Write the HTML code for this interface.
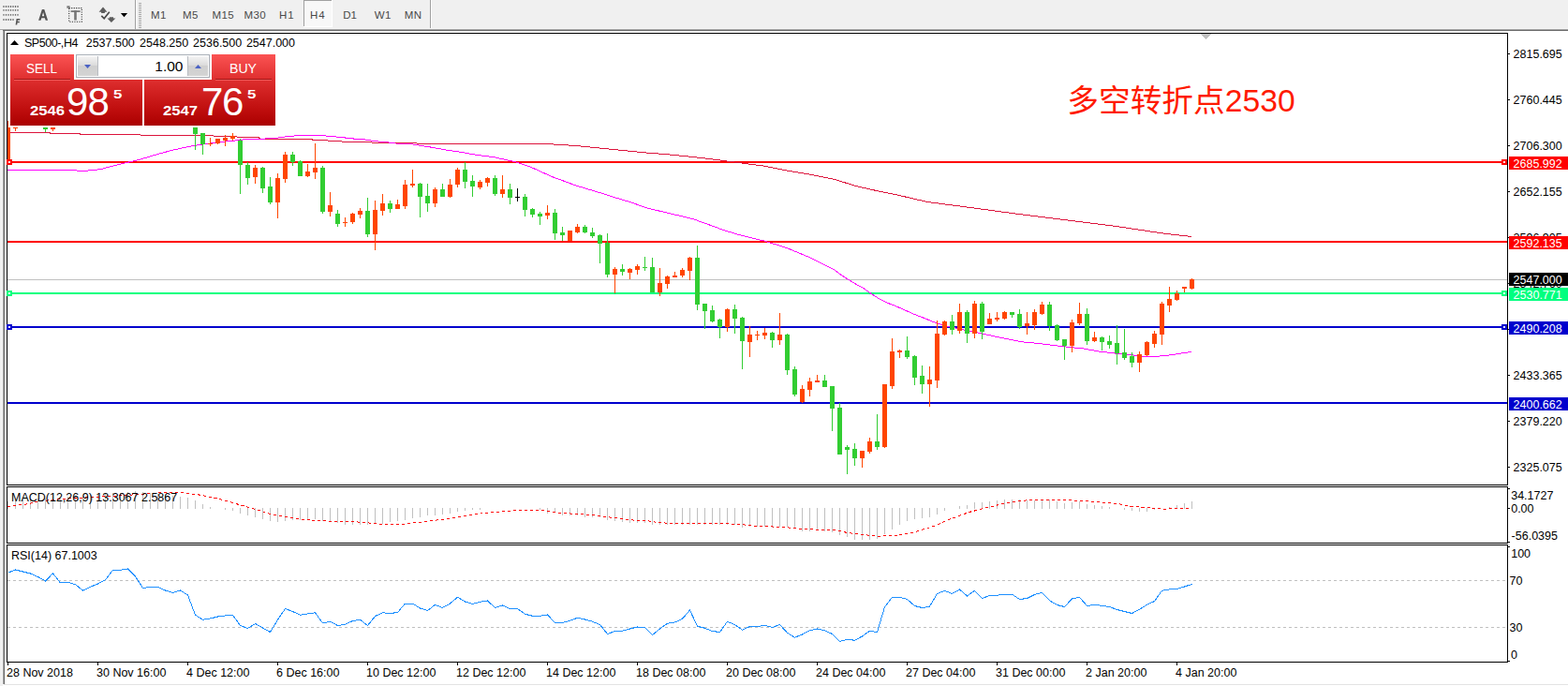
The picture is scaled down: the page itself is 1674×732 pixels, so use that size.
<!DOCTYPE html>
<html><head><meta charset="utf-8"><title>SP500-,H4</title>
<style>
html,body{margin:0;padding:0;background:#fff;}
body{width:1674px;height:732px;position:relative;overflow:hidden;font-family:"Liberation Sans",sans-serif;}
svg{position:absolute;left:0;top:0;}
#t div{position:absolute;white-space:nowrap;}
</style></head><body>
<svg width="1674" height="732" viewBox="0 0 1674 732" shape-rendering="crispEdges">
<rect x="0" y="0" width="1674" height="31" fill="#f0f0f0"/>
<rect x="0" y="30" width="1674" height="1" fill="#f5f5f5"/>
<rect x="0" y="31" width="1674" height="1" fill="#a6a6a6"/>
<rect x="0" y="32" width="3" height="700" fill="#f0f0f0"/>
<rect x="3" y="32" width="1674" height="1" fill="#696969"/>
<rect x="3" y="33" width="1" height="697" fill="#a6a6a6"/>
<rect x="4" y="33" width="1" height="697" fill="#696969"/>
<rect x="4" y="730" width="1674" height="1" fill="#e3e3e3"/>
<rect x="144" y="0" width="1" height="31" fill="#a0a0a0"/>
<rect x="145" y="0" width="1" height="31" fill="#fbfbfb"/>
<rect x="148" y="3" width="3" height="1" fill="#a8a8a8"/>
<rect x="148" y="5" width="3" height="1" fill="#a8a8a8"/>
<rect x="148" y="7" width="3" height="1" fill="#a8a8a8"/>
<rect x="148" y="9" width="3" height="1" fill="#a8a8a8"/>
<rect x="148" y="11" width="3" height="1" fill="#a8a8a8"/>
<rect x="148" y="13" width="3" height="1" fill="#a8a8a8"/>
<rect x="148" y="15" width="3" height="1" fill="#a8a8a8"/>
<rect x="148" y="17" width="3" height="1" fill="#a8a8a8"/>
<rect x="148" y="19" width="3" height="1" fill="#a8a8a8"/>
<rect x="148" y="21" width="3" height="1" fill="#a8a8a8"/>
<rect x="148" y="23" width="3" height="1" fill="#a8a8a8"/>
<rect x="148" y="25" width="3" height="1" fill="#a8a8a8"/>
<rect x="148" y="27" width="3" height="1" fill="#a8a8a8"/>
<rect x="148" y="29" width="3" height="1" fill="#a8a8a8"/>
<rect x="459" y="0" width="1" height="30" fill="#a0a0a0"/>
<rect x="460" y="0" width="1" height="30" fill="#ffffff"/>
<rect x="324" y="0" width="31" height="29" fill="#f8f8f8"/>
<rect x="324" y="0" width="31" height="1" fill="#a0a0a0"/>
<rect x="324" y="0" width="1" height="29" fill="#a0a0a0"/>
<rect x="354" y="0" width="1" height="29" fill="#ffffff"/>
<rect x="324" y="28" width="31" height="1" fill="#ffffff"/>
<rect x="7" y="35" width="1603" height="1" fill="#000"/>
<rect x="7" y="517" width="1603" height="1" fill="#000"/>
<rect x="7" y="35" width="1" height="483" fill="#000"/>
<rect x="1609" y="35" width="1" height="483" fill="#000"/>
<rect x="7" y="519" width="1603" height="1" fill="#000"/>
<rect x="7" y="579" width="1603" height="1" fill="#000"/>
<rect x="7" y="519" width="1" height="61" fill="#000"/>
<rect x="1609" y="519" width="1" height="61" fill="#000"/>
<rect x="7" y="581" width="1603" height="1" fill="#000"/>
<rect x="7" y="706" width="1603" height="1" fill="#000"/>
<rect x="7" y="581" width="1" height="126" fill="#000"/>
<rect x="1609" y="581" width="1" height="126" fill="#000"/>
<rect x="1610" y="57" width="2" height="1" fill="#000"/>
<rect x="1610" y="106" width="2" height="1" fill="#000"/>
<rect x="1610" y="155" width="2" height="1" fill="#000"/>
<rect x="1610" y="204" width="2" height="1" fill="#000"/>
<rect x="1610" y="253" width="2" height="1" fill="#000"/>
<rect x="1610" y="302" width="2" height="1" fill="#000"/>
<rect x="1610" y="351" width="2" height="1" fill="#000"/>
<rect x="1610" y="400" width="2" height="1" fill="#000"/>
<rect x="1610" y="449" width="2" height="1" fill="#000"/>
<rect x="1610" y="498" width="2" height="1" fill="#000"/>
<rect x="1610" y="521" width="2" height="1" fill="#000"/>
<rect x="1610" y="542" width="2" height="1" fill="#000"/>
<rect x="1610" y="578" width="2" height="1" fill="#000"/>
<rect x="1610" y="583" width="2" height="1" fill="#000"/>
<rect x="1610" y="705" width="2" height="1" fill="#000"/>
<rect x="8" y="707" width="1" height="3" fill="#000"/>
<rect x="104" y="707" width="1" height="3" fill="#000"/>
<rect x="200" y="707" width="1" height="3" fill="#000"/>
<rect x="296" y="707" width="1" height="3" fill="#000"/>
<rect x="392" y="707" width="1" height="3" fill="#000"/>
<rect x="488" y="707" width="1" height="3" fill="#000"/>
<rect x="584" y="707" width="1" height="3" fill="#000"/>
<rect x="680" y="707" width="1" height="3" fill="#000"/>
<rect x="776" y="707" width="1" height="3" fill="#000"/>
<rect x="872" y="707" width="1" height="3" fill="#000"/>
<rect x="968" y="707" width="1" height="3" fill="#000"/>
<rect x="1064" y="707" width="1" height="3" fill="#000"/>
<rect x="1160" y="707" width="1" height="3" fill="#000"/>
<rect x="1256" y="707" width="1" height="3" fill="#000"/>
<polygon points="1281,36 1293,36 1287,42" fill="#c0c0c0"/>
<rect x="8" y="298" width="1601" height="1" fill="#c0c0c0"/>
<rect x="8" y="172" width="1601" height="2" fill="#ff0000"/>
<rect x="7" y="170" width="6" height="6" fill="#ff0000"/>
<rect x="9" y="172" width="2" height="2" fill="#fff"/>
<rect x="1603" y="170" width="6" height="6" fill="#ff0000"/>
<rect x="1605" y="172" width="2" height="2" fill="#fff"/>
<rect x="8" y="257" width="1601" height="2" fill="#ff0000"/>
<rect x="8" y="312" width="1601" height="2" fill="#00ff7f"/>
<rect x="7" y="310" width="6" height="6" fill="#00ff7f"/>
<rect x="9" y="312" width="2" height="2" fill="#fff"/>
<rect x="1603" y="310" width="6" height="6" fill="#00ff7f"/>
<rect x="1605" y="312" width="2" height="2" fill="#fff"/>
<rect x="8" y="348" width="1601" height="2" fill="#0000cd"/>
<rect x="7" y="346" width="6" height="6" fill="#0000cd"/>
<rect x="9" y="348" width="2" height="2" fill="#fff"/>
<rect x="1603" y="346" width="6" height="6" fill="#0000cd"/>
<rect x="1605" y="348" width="2" height="2" fill="#fff"/>
<rect x="8" y="429" width="1601" height="2" fill="#0000cd"/>
<polyline points="8,141.2 52,141.2 54,142.2 84,142.2 86,143.3 149,143.3 151,144.5 227,144.5 229,145.6 252,145.6 254,146.5 276,146.5 278,148 332,148 334,149.3 349,149.3 351,150.5 364,150.5 366,151.5 396,151.5 398,152.7 444,152.7 446,153.3 580,153.3 615,155.5 640,158 665,160.5 690,163 715,165 740,167.5 765,170.5 790,173.8 815,177 840,182 865,186.2 890,191.2 915,198.8 940,204.5 958,208 990,215.5 1040,222 1090,228.8 1140,235 1190,241.2 1240,248.8 1272,252.5" fill="none" stroke="#dc143c" stroke-width="1"/>
<polyline points="8,181.7 76,181.7 85,182.2 92,182.2 100,181.5 108,180.5 117,178 125,176 133,174 142,172 150,170 166.7,165 183,160.5 200,156.7 216.7,154 233,151.7 250,150.2 256.7,149.3 266.7,148 283.3,148 293.3,147.7 300,146.5 308.3,145.5 323.3,144.3 340,144.3 350,145.2 365,146.5 373.3,147.7 388.3,148.8 400,150.7 413.3,151.8 421.7,153 436.7,153.2 445,154.7 458.3,156.8 475,159.8 491.7,162.3 508.3,165.2 529,168 540,170.5 549,172.5 565,177.5 590,188.8 615,198 640,205.5 656.7,210.8 673.3,215.8 690,221.7 706.7,225.8 723.3,229.7 740,233.7 756.7,239.7 773.3,245.8 790,250.8 806.7,255 815,256.8 840,264.5 865,275 890,287.5 902,296.2 915,303.8 921.7,307.5 930,313.3 938.3,318.7 946.7,323 956.7,326.7 973.3,334.2 990,340.8 998.3,344.2 1006.7,347 1023.3,350.8 1040,354.2 1056.7,357.8 1073.3,361.3 1090,364.7 1106.7,366.3 1123.3,368.3 1140,370.3 1156.7,372 1173.3,375 1190,377 1206.7,378.6 1221.7,380.3 1235,380.3 1246.7,379.2 1258.3,377.5 1272,375.3" fill="none" stroke="#ff00ff" stroke-width="1"/>
<rect x="208" y="136" width="1" height="24" fill="#32cd32"/>
<rect x="206" y="136" width="5" height="7" fill="#32cd32"/>
<rect x="216" y="142" width="1" height="23" fill="#32cd32"/>
<rect x="214" y="142" width="5" height="12" fill="#32cd32"/>
<rect x="224" y="147" width="1" height="9" fill="#ff4500"/>
<rect x="222" y="153" width="5" height="1" fill="#ff4500"/>
<rect x="232" y="148" width="1" height="6" fill="#ff4500"/>
<rect x="230" y="148" width="5" height="5" fill="#ff4500"/>
<rect x="240" y="144" width="1" height="12" fill="#ff4500"/>
<rect x="238" y="147" width="5" height="3" fill="#ff4500"/>
<rect x="248" y="142" width="1" height="8" fill="#ff4500"/>
<rect x="246" y="145" width="5" height="3" fill="#ff4500"/>
<rect x="256" y="148" width="1" height="59" fill="#32cd32"/>
<rect x="254" y="150" width="5" height="26" fill="#32cd32"/>
<rect x="264" y="173" width="1" height="24" fill="#32cd32"/>
<rect x="262" y="176" width="5" height="14" fill="#32cd32"/>
<rect x="272" y="176" width="1" height="20" fill="#ff4500"/>
<rect x="270" y="179" width="5" height="10" fill="#ff4500"/>
<rect x="280" y="178" width="1" height="28" fill="#32cd32"/>
<rect x="278" y="179" width="5" height="22" fill="#32cd32"/>
<rect x="288" y="189" width="1" height="29" fill="#32cd32"/>
<rect x="286" y="199" width="5" height="17" fill="#32cd32"/>
<rect x="296" y="185" width="1" height="48" fill="#ff4500"/>
<rect x="294" y="190" width="5" height="26" fill="#ff4500"/>
<rect x="304" y="162" width="1" height="33" fill="#ff4500"/>
<rect x="302" y="165" width="5" height="26" fill="#ff4500"/>
<rect x="312" y="162" width="1" height="15" fill="#32cd32"/>
<rect x="310" y="165" width="5" height="8" fill="#32cd32"/>
<rect x="320" y="171" width="1" height="17" fill="#32cd32"/>
<rect x="318" y="172" width="5" height="16" fill="#32cd32"/>
<rect x="328" y="175" width="1" height="14" fill="#ff4500"/>
<rect x="326" y="183" width="5" height="5" fill="#ff4500"/>
<rect x="336" y="153" width="1" height="38" fill="#ff4500"/>
<rect x="334" y="179" width="5" height="5" fill="#ff4500"/>
<rect x="344" y="177" width="1" height="51" fill="#32cd32"/>
<rect x="342" y="179" width="5" height="47" fill="#32cd32"/>
<rect x="352" y="205" width="1" height="26" fill="#ff4500"/>
<rect x="350" y="219" width="5" height="7" fill="#ff4500"/>
<rect x="360" y="224" width="1" height="18" fill="#32cd32"/>
<rect x="358" y="228" width="5" height="11" fill="#32cd32"/>
<rect x="368" y="232" width="1" height="10" fill="#ff4500"/>
<rect x="366" y="237" width="5" height="1" fill="#ff4500"/>
<rect x="376" y="227" width="1" height="12" fill="#ff4500"/>
<rect x="374" y="228" width="5" height="9" fill="#ff4500"/>
<rect x="384" y="222" width="1" height="11" fill="#ff4500"/>
<rect x="382" y="225" width="5" height="4" fill="#ff4500"/>
<rect x="392" y="211" width="1" height="42" fill="#32cd32"/>
<rect x="390" y="225" width="5" height="25" fill="#32cd32"/>
<rect x="400" y="214" width="1" height="53" fill="#ff4500"/>
<rect x="398" y="224" width="5" height="26" fill="#ff4500"/>
<rect x="408" y="207" width="1" height="23" fill="#ff4500"/>
<rect x="406" y="217" width="5" height="8" fill="#ff4500"/>
<rect x="416" y="214" width="1" height="13" fill="#32cd32"/>
<rect x="414" y="217" width="5" height="6" fill="#32cd32"/>
<rect x="424" y="213" width="1" height="10" fill="#ff4500"/>
<rect x="422" y="218" width="5" height="5" fill="#ff4500"/>
<rect x="432" y="192" width="1" height="31" fill="#ff4500"/>
<rect x="430" y="197" width="5" height="23" fill="#ff4500"/>
<rect x="440" y="181" width="1" height="19" fill="#ff4500"/>
<rect x="438" y="196" width="5" height="2" fill="#ff4500"/>
<rect x="448" y="195" width="1" height="37" fill="#32cd32"/>
<rect x="446" y="196" width="5" height="14" fill="#32cd32"/>
<rect x="456" y="196" width="1" height="30" fill="#32cd32"/>
<rect x="454" y="209" width="5" height="8" fill="#32cd32"/>
<rect x="464" y="200" width="1" height="21" fill="#ff4500"/>
<rect x="462" y="202" width="5" height="15" fill="#ff4500"/>
<rect x="472" y="196" width="1" height="14" fill="#32cd32"/>
<rect x="470" y="202" width="5" height="8" fill="#32cd32"/>
<rect x="480" y="191" width="1" height="20" fill="#ff4500"/>
<rect x="478" y="197" width="5" height="13" fill="#ff4500"/>
<rect x="488" y="179" width="1" height="21" fill="#ff4500"/>
<rect x="486" y="181" width="5" height="16" fill="#ff4500"/>
<rect x="496" y="173" width="1" height="28" fill="#32cd32"/>
<rect x="494" y="181" width="5" height="13" fill="#32cd32"/>
<rect x="504" y="187" width="1" height="23" fill="#32cd32"/>
<rect x="502" y="193" width="5" height="6" fill="#32cd32"/>
<rect x="512" y="192" width="1" height="10" fill="#ff4500"/>
<rect x="510" y="194" width="5" height="6" fill="#ff4500"/>
<rect x="520" y="189" width="1" height="10" fill="#ff4500"/>
<rect x="518" y="190" width="5" height="5" fill="#ff4500"/>
<rect x="528" y="187" width="1" height="22" fill="#32cd32"/>
<rect x="526" y="190" width="5" height="17" fill="#32cd32"/>
<rect x="536" y="187" width="1" height="24" fill="#ff4500"/>
<rect x="534" y="202" width="5" height="5" fill="#ff4500"/>
<rect x="544" y="196" width="1" height="22" fill="#32cd32"/>
<rect x="542" y="202" width="5" height="9" fill="#32cd32"/>
<rect x="552" y="201" width="1" height="14" fill="#000000"/>
<rect x="550" y="210" width="5" height="1" fill="#000000"/>
<rect x="560" y="207" width="1" height="24" fill="#32cd32"/>
<rect x="558" y="210" width="5" height="14" fill="#32cd32"/>
<rect x="568" y="222" width="1" height="10" fill="#32cd32"/>
<rect x="566" y="223" width="5" height="6" fill="#32cd32"/>
<rect x="576" y="226" width="1" height="14" fill="#32cd32"/>
<rect x="574" y="228" width="5" height="3" fill="#32cd32"/>
<rect x="584" y="219" width="1" height="15" fill="#ff4500"/>
<rect x="582" y="227" width="5" height="3" fill="#ff4500"/>
<rect x="592" y="223" width="1" height="33" fill="#32cd32"/>
<rect x="590" y="227" width="5" height="22" fill="#32cd32"/>
<rect x="600" y="242" width="1" height="15" fill="#32cd32"/>
<rect x="598" y="248" width="5" height="3" fill="#32cd32"/>
<rect x="608" y="246" width="1" height="11" fill="#ff4500"/>
<rect x="606" y="246" width="5" height="11" fill="#ff4500"/>
<rect x="616" y="239" width="1" height="10" fill="#ff4500"/>
<rect x="614" y="242" width="5" height="6" fill="#ff4500"/>
<rect x="624" y="240" width="1" height="9" fill="#32cd32"/>
<rect x="622" y="242" width="5" height="6" fill="#32cd32"/>
<rect x="632" y="243" width="1" height="11" fill="#32cd32"/>
<rect x="630" y="248" width="5" height="4" fill="#32cd32"/>
<rect x="640" y="250" width="1" height="31" fill="#32cd32"/>
<rect x="638" y="251" width="5" height="9" fill="#32cd32"/>
<rect x="648" y="249" width="1" height="47" fill="#32cd32"/>
<rect x="646" y="259" width="5" height="34" fill="#32cd32"/>
<rect x="656" y="285" width="1" height="28" fill="#ff4500"/>
<rect x="654" y="287" width="5" height="6" fill="#ff4500"/>
<rect x="664" y="282" width="1" height="12" fill="#32cd32"/>
<rect x="662" y="287" width="5" height="3" fill="#32cd32"/>
<rect x="672" y="286" width="1" height="12" fill="#ff4500"/>
<rect x="670" y="287" width="5" height="4" fill="#ff4500"/>
<rect x="680" y="282" width="1" height="11" fill="#ff4500"/>
<rect x="678" y="284" width="5" height="4" fill="#ff4500"/>
<rect x="688" y="274" width="1" height="15" fill="#32cd32"/>
<rect x="686" y="285" width="5" height="1" fill="#32cd32"/>
<rect x="696" y="275" width="1" height="37" fill="#32cd32"/>
<rect x="694" y="285" width="5" height="27" fill="#32cd32"/>
<rect x="704" y="286" width="1" height="30" fill="#ff4500"/>
<rect x="702" y="302" width="5" height="10" fill="#ff4500"/>
<rect x="712" y="294" width="1" height="14" fill="#ff4500"/>
<rect x="710" y="295" width="5" height="8" fill="#ff4500"/>
<rect x="720" y="290" width="1" height="6" fill="#ff4500"/>
<rect x="718" y="294" width="5" height="2" fill="#ff4500"/>
<rect x="728" y="286" width="1" height="10" fill="#ff4500"/>
<rect x="726" y="288" width="5" height="6" fill="#ff4500"/>
<rect x="736" y="274" width="1" height="25" fill="#ff4500"/>
<rect x="734" y="275" width="5" height="14" fill="#ff4500"/>
<rect x="744" y="262" width="1" height="69" fill="#32cd32"/>
<rect x="742" y="275" width="5" height="50" fill="#32cd32"/>
<rect x="752" y="324" width="1" height="27" fill="#32cd32"/>
<rect x="750" y="324" width="5" height="8" fill="#32cd32"/>
<rect x="760" y="326" width="1" height="18" fill="#32cd32"/>
<rect x="758" y="331" width="5" height="12" fill="#32cd32"/>
<rect x="768" y="340" width="1" height="21" fill="#32cd32"/>
<rect x="766" y="341" width="5" height="8" fill="#32cd32"/>
<rect x="776" y="329" width="1" height="25" fill="#ff4500"/>
<rect x="774" y="330" width="5" height="19" fill="#ff4500"/>
<rect x="784" y="325" width="1" height="31" fill="#32cd32"/>
<rect x="782" y="330" width="5" height="10" fill="#32cd32"/>
<rect x="792" y="338" width="1" height="56" fill="#32cd32"/>
<rect x="790" y="339" width="5" height="25" fill="#32cd32"/>
<rect x="800" y="348" width="1" height="33" fill="#ff4500"/>
<rect x="798" y="357" width="5" height="8" fill="#ff4500"/>
<rect x="808" y="353" width="1" height="10" fill="#ff4500"/>
<rect x="806" y="357" width="5" height="1" fill="#ff4500"/>
<rect x="816" y="350" width="1" height="12" fill="#ff4500"/>
<rect x="814" y="355" width="5" height="3" fill="#ff4500"/>
<rect x="824" y="354" width="1" height="17" fill="#32cd32"/>
<rect x="822" y="355" width="5" height="8" fill="#32cd32"/>
<rect x="832" y="334" width="1" height="34" fill="#ff4500"/>
<rect x="830" y="357" width="5" height="6" fill="#ff4500"/>
<rect x="840" y="356" width="1" height="44" fill="#32cd32"/>
<rect x="838" y="357" width="5" height="38" fill="#32cd32"/>
<rect x="848" y="391" width="1" height="32" fill="#32cd32"/>
<rect x="846" y="394" width="5" height="27" fill="#32cd32"/>
<rect x="856" y="411" width="1" height="19" fill="#ff4500"/>
<rect x="854" y="415" width="5" height="14" fill="#ff4500"/>
<rect x="864" y="403" width="1" height="20" fill="#ff4500"/>
<rect x="862" y="407" width="5" height="9" fill="#ff4500"/>
<rect x="872" y="400" width="1" height="8" fill="#ff4500"/>
<rect x="870" y="406" width="5" height="2" fill="#ff4500"/>
<rect x="880" y="400" width="1" height="13" fill="#32cd32"/>
<rect x="878" y="406" width="5" height="7" fill="#32cd32"/>
<rect x="888" y="412" width="1" height="48" fill="#32cd32"/>
<rect x="886" y="412" width="5" height="24" fill="#32cd32"/>
<rect x="896" y="430" width="1" height="55" fill="#32cd32"/>
<rect x="894" y="435" width="5" height="50" fill="#32cd32"/>
<rect x="904" y="475" width="1" height="31" fill="#32cd32"/>
<rect x="902" y="477" width="5" height="3" fill="#32cd32"/>
<rect x="912" y="473" width="1" height="24" fill="#32cd32"/>
<rect x="910" y="479" width="5" height="10" fill="#32cd32"/>
<rect x="920" y="481" width="1" height="18" fill="#ff4500"/>
<rect x="918" y="481" width="5" height="8" fill="#ff4500"/>
<rect x="928" y="467" width="1" height="17" fill="#ff4500"/>
<rect x="926" y="471" width="5" height="11" fill="#ff4500"/>
<rect x="936" y="442" width="1" height="38" fill="#32cd32"/>
<rect x="934" y="471" width="5" height="6" fill="#32cd32"/>
<rect x="944" y="410" width="1" height="68" fill="#ff4500"/>
<rect x="942" y="410" width="5" height="67" fill="#ff4500"/>
<rect x="952" y="361" width="1" height="54" fill="#ff4500"/>
<rect x="950" y="375" width="5" height="37" fill="#ff4500"/>
<rect x="960" y="373" width="1" height="9" fill="#ff4500"/>
<rect x="958" y="374" width="5" height="2" fill="#ff4500"/>
<rect x="968" y="359" width="1" height="24" fill="#32cd32"/>
<rect x="966" y="374" width="5" height="7" fill="#32cd32"/>
<rect x="976" y="379" width="1" height="32" fill="#32cd32"/>
<rect x="974" y="380" width="5" height="23" fill="#32cd32"/>
<rect x="984" y="390" width="1" height="30" fill="#32cd32"/>
<rect x="982" y="401" width="5" height="9" fill="#32cd32"/>
<rect x="992" y="391" width="1" height="43" fill="#ff4500"/>
<rect x="990" y="405" width="5" height="5" fill="#ff4500"/>
<rect x="1000" y="342" width="1" height="72" fill="#ff4500"/>
<rect x="998" y="356" width="5" height="50" fill="#ff4500"/>
<rect x="1008" y="342" width="1" height="16" fill="#ff4500"/>
<rect x="1006" y="343" width="5" height="14" fill="#ff4500"/>
<rect x="1016" y="336" width="1" height="21" fill="#32cd32"/>
<rect x="1014" y="343" width="5" height="9" fill="#32cd32"/>
<rect x="1024" y="324" width="1" height="32" fill="#ff4500"/>
<rect x="1022" y="333" width="5" height="20" fill="#ff4500"/>
<rect x="1032" y="331" width="1" height="35" fill="#32cd32"/>
<rect x="1030" y="333" width="5" height="23" fill="#32cd32"/>
<rect x="1040" y="321" width="1" height="40" fill="#ff4500"/>
<rect x="1038" y="324" width="5" height="32" fill="#ff4500"/>
<rect x="1048" y="322" width="1" height="40" fill="#32cd32"/>
<rect x="1046" y="324" width="5" height="30" fill="#32cd32"/>
<rect x="1056" y="334" width="1" height="12" fill="#ff4500"/>
<rect x="1054" y="340" width="5" height="6" fill="#ff4500"/>
<rect x="1064" y="333" width="1" height="10" fill="#ff4500"/>
<rect x="1062" y="339" width="5" height="2" fill="#ff4500"/>
<rect x="1072" y="332" width="1" height="9" fill="#ff4500"/>
<rect x="1070" y="333" width="5" height="7" fill="#ff4500"/>
<rect x="1080" y="333" width="1" height="6" fill="#32cd32"/>
<rect x="1078" y="333" width="5" height="3" fill="#32cd32"/>
<rect x="1088" y="330" width="1" height="21" fill="#32cd32"/>
<rect x="1086" y="335" width="5" height="14" fill="#32cd32"/>
<rect x="1096" y="333" width="1" height="24" fill="#ff4500"/>
<rect x="1094" y="345" width="5" height="3" fill="#ff4500"/>
<rect x="1104" y="330" width="1" height="22" fill="#ff4500"/>
<rect x="1102" y="333" width="5" height="14" fill="#ff4500"/>
<rect x="1112" y="322" width="1" height="14" fill="#ff4500"/>
<rect x="1110" y="325" width="5" height="10" fill="#ff4500"/>
<rect x="1120" y="322" width="1" height="31" fill="#32cd32"/>
<rect x="1118" y="325" width="5" height="23" fill="#32cd32"/>
<rect x="1128" y="346" width="1" height="18" fill="#32cd32"/>
<rect x="1126" y="347" width="5" height="16" fill="#32cd32"/>
<rect x="1136" y="362" width="1" height="22" fill="#32cd32"/>
<rect x="1134" y="362" width="5" height="7" fill="#32cd32"/>
<rect x="1144" y="341" width="1" height="35" fill="#ff4500"/>
<rect x="1142" y="344" width="5" height="25" fill="#ff4500"/>
<rect x="1152" y="323" width="1" height="24" fill="#ff4500"/>
<rect x="1150" y="335" width="5" height="10" fill="#ff4500"/>
<rect x="1160" y="329" width="1" height="39" fill="#32cd32"/>
<rect x="1158" y="335" width="5" height="29" fill="#32cd32"/>
<rect x="1168" y="354" width="1" height="11" fill="#ff4500"/>
<rect x="1166" y="360" width="5" height="4" fill="#ff4500"/>
<rect x="1176" y="359" width="1" height="15" fill="#32cd32"/>
<rect x="1174" y="360" width="5" height="5" fill="#32cd32"/>
<rect x="1184" y="358" width="1" height="14" fill="#32cd32"/>
<rect x="1182" y="364" width="5" height="4" fill="#32cd32"/>
<rect x="1192" y="347" width="1" height="42" fill="#32cd32"/>
<rect x="1190" y="366" width="5" height="11" fill="#32cd32"/>
<rect x="1200" y="351" width="1" height="33" fill="#32cd32"/>
<rect x="1198" y="376" width="5" height="6" fill="#32cd32"/>
<rect x="1208" y="376" width="1" height="16" fill="#32cd32"/>
<rect x="1206" y="380" width="5" height="7" fill="#32cd32"/>
<rect x="1216" y="375" width="1" height="22" fill="#ff4500"/>
<rect x="1214" y="378" width="5" height="9" fill="#ff4500"/>
<rect x="1224" y="364" width="1" height="16" fill="#ff4500"/>
<rect x="1222" y="365" width="5" height="14" fill="#ff4500"/>
<rect x="1232" y="353" width="1" height="18" fill="#ff4500"/>
<rect x="1230" y="356" width="5" height="11" fill="#ff4500"/>
<rect x="1240" y="322" width="1" height="46" fill="#ff4500"/>
<rect x="1238" y="324" width="5" height="33" fill="#ff4500"/>
<rect x="1248" y="306" width="1" height="27" fill="#ff4500"/>
<rect x="1246" y="319" width="5" height="7" fill="#ff4500"/>
<rect x="1256" y="310" width="1" height="11" fill="#ff4500"/>
<rect x="1254" y="313" width="5" height="7" fill="#ff4500"/>
<rect x="1264" y="306" width="1" height="6" fill="#ff4500"/>
<rect x="1262" y="306" width="5" height="2" fill="#ff4500"/>
<rect x="1272" y="297" width="1" height="12" fill="#ff4500"/>
<rect x="1270" y="298" width="5" height="10" fill="#ff4500"/>
<rect x="8" y="129" width="1" height="8" fill="#ff4500"/>
<rect x="8" y="136" width="3" height="37" fill="#ff4500"/>
<rect x="14" y="136" width="5" height="1" fill="#ff4500"/>
<rect x="16" y="136" width="1" height="4" fill="#ff4500"/>
<rect x="46" y="136" width="5" height="2" fill="#32cd32"/>
<rect x="48" y="136" width="1" height="5" fill="#32cd32"/>
<rect x="54" y="136" width="5" height="2" fill="#ff4500"/>
<rect x="56" y="136" width="1" height="4" fill="#ff4500"/>
<rect x="7" y="170" width="6" height="6" fill="#ff0000"/>
<rect x="9" y="172" width="2" height="2" fill="#fff"/>
<rect x="8" y="535" width="1" height="8" fill="#c0c0c0"/>
<rect x="16" y="534" width="1" height="9" fill="#c0c0c0"/>
<rect x="24" y="533" width="1" height="10" fill="#c0c0c0"/>
<rect x="32" y="533" width="1" height="10" fill="#c0c0c0"/>
<rect x="40" y="532" width="1" height="11" fill="#c0c0c0"/>
<rect x="48" y="532" width="1" height="11" fill="#c0c0c0"/>
<rect x="56" y="531" width="1" height="12" fill="#c0c0c0"/>
<rect x="64" y="531" width="1" height="12" fill="#c0c0c0"/>
<rect x="72" y="530" width="1" height="13" fill="#c0c0c0"/>
<rect x="80" y="530" width="1" height="13" fill="#c0c0c0"/>
<rect x="88" y="529" width="1" height="14" fill="#c0c0c0"/>
<rect x="96" y="528" width="1" height="15" fill="#c0c0c0"/>
<rect x="104" y="528" width="1" height="15" fill="#c0c0c0"/>
<rect x="112" y="527" width="1" height="16" fill="#c0c0c0"/>
<rect x="120" y="526" width="1" height="17" fill="#c0c0c0"/>
<rect x="128" y="526" width="1" height="17" fill="#c0c0c0"/>
<rect x="136" y="525" width="1" height="18" fill="#c0c0c0"/>
<rect x="144" y="524" width="1" height="19" fill="#c0c0c0"/>
<rect x="152" y="525" width="1" height="18" fill="#c0c0c0"/>
<rect x="160" y="526" width="1" height="17" fill="#c0c0c0"/>
<rect x="168" y="527" width="1" height="16" fill="#c0c0c0"/>
<rect x="176" y="528" width="1" height="15" fill="#c0c0c0"/>
<rect x="184" y="529" width="1" height="14" fill="#c0c0c0"/>
<rect x="192" y="530" width="1" height="13" fill="#c0c0c0"/>
<rect x="200" y="531" width="1" height="12" fill="#c0c0c0"/>
<rect x="208" y="534" width="1" height="9" fill="#c0c0c0"/>
<rect x="216" y="538" width="1" height="5" fill="#c0c0c0"/>
<rect x="224" y="541" width="1" height="2" fill="#c0c0c0"/>
<rect x="240" y="542" width="1" height="2" fill="#c0c0c0"/>
<rect x="248" y="542" width="1" height="3" fill="#c0c0c0"/>
<rect x="256" y="542" width="1" height="6" fill="#c0c0c0"/>
<rect x="264" y="542" width="1" height="8" fill="#c0c0c0"/>
<rect x="272" y="542" width="1" height="10" fill="#c0c0c0"/>
<rect x="280" y="542" width="1" height="12" fill="#c0c0c0"/>
<rect x="288" y="542" width="1" height="14" fill="#c0c0c0"/>
<rect x="296" y="542" width="1" height="15" fill="#c0c0c0"/>
<rect x="304" y="542" width="1" height="14" fill="#c0c0c0"/>
<rect x="312" y="542" width="1" height="13" fill="#c0c0c0"/>
<rect x="320" y="542" width="1" height="13" fill="#c0c0c0"/>
<rect x="328" y="542" width="1" height="13" fill="#c0c0c0"/>
<rect x="336" y="542" width="1" height="12" fill="#c0c0c0"/>
<rect x="344" y="542" width="1" height="14" fill="#c0c0c0"/>
<rect x="352" y="542" width="1" height="14" fill="#c0c0c0"/>
<rect x="360" y="542" width="1" height="16" fill="#c0c0c0"/>
<rect x="368" y="542" width="1" height="18" fill="#c0c0c0"/>
<rect x="376" y="542" width="1" height="18" fill="#c0c0c0"/>
<rect x="384" y="542" width="1" height="18" fill="#c0c0c0"/>
<rect x="392" y="542" width="1" height="18" fill="#c0c0c0"/>
<rect x="400" y="542" width="1" height="17" fill="#c0c0c0"/>
<rect x="408" y="542" width="1" height="17" fill="#c0c0c0"/>
<rect x="416" y="542" width="1" height="15" fill="#c0c0c0"/>
<rect x="424" y="542" width="1" height="14" fill="#c0c0c0"/>
<rect x="432" y="542" width="1" height="13" fill="#c0c0c0"/>
<rect x="440" y="542" width="1" height="11" fill="#c0c0c0"/>
<rect x="448" y="542" width="1" height="10" fill="#c0c0c0"/>
<rect x="456" y="542" width="1" height="8" fill="#c0c0c0"/>
<rect x="464" y="542" width="1" height="8" fill="#c0c0c0"/>
<rect x="472" y="542" width="1" height="7" fill="#c0c0c0"/>
<rect x="480" y="542" width="1" height="6" fill="#c0c0c0"/>
<rect x="488" y="542" width="1" height="4" fill="#c0c0c0"/>
<rect x="496" y="542" width="1" height="3" fill="#c0c0c0"/>
<rect x="504" y="542" width="1" height="2" fill="#c0c0c0"/>
<rect x="512" y="542" width="1" height="2" fill="#c0c0c0"/>
<rect x="576" y="542" width="1" height="2" fill="#c0c0c0"/>
<rect x="584" y="542" width="1" height="6" fill="#c0c0c0"/>
<rect x="592" y="542" width="1" height="4" fill="#c0c0c0"/>
<rect x="600" y="542" width="1" height="8" fill="#c0c0c0"/>
<rect x="608" y="542" width="1" height="8" fill="#c0c0c0"/>
<rect x="616" y="542" width="1" height="8" fill="#c0c0c0"/>
<rect x="624" y="542" width="1" height="10" fill="#c0c0c0"/>
<rect x="632" y="542" width="1" height="10" fill="#c0c0c0"/>
<rect x="640" y="542" width="1" height="10" fill="#c0c0c0"/>
<rect x="648" y="542" width="1" height="13" fill="#c0c0c0"/>
<rect x="656" y="542" width="1" height="14" fill="#c0c0c0"/>
<rect x="664" y="542" width="1" height="15" fill="#c0c0c0"/>
<rect x="672" y="542" width="1" height="16" fill="#c0c0c0"/>
<rect x="680" y="542" width="1" height="16" fill="#c0c0c0"/>
<rect x="688" y="542" width="1" height="16" fill="#c0c0c0"/>
<rect x="696" y="542" width="1" height="18" fill="#c0c0c0"/>
<rect x="704" y="542" width="1" height="18" fill="#c0c0c0"/>
<rect x="712" y="542" width="1" height="18" fill="#c0c0c0"/>
<rect x="720" y="542" width="1" height="18" fill="#c0c0c0"/>
<rect x="728" y="542" width="1" height="18" fill="#c0c0c0"/>
<rect x="736" y="542" width="1" height="18" fill="#c0c0c0"/>
<rect x="744" y="542" width="1" height="18" fill="#c0c0c0"/>
<rect x="752" y="542" width="1" height="18" fill="#c0c0c0"/>
<rect x="760" y="542" width="1" height="18" fill="#c0c0c0"/>
<rect x="768" y="542" width="1" height="18" fill="#c0c0c0"/>
<rect x="776" y="542" width="1" height="18" fill="#c0c0c0"/>
<rect x="784" y="542" width="1" height="18" fill="#c0c0c0"/>
<rect x="792" y="542" width="1" height="21" fill="#c0c0c0"/>
<rect x="800" y="542" width="1" height="20" fill="#c0c0c0"/>
<rect x="808" y="542" width="1" height="20" fill="#c0c0c0"/>
<rect x="816" y="542" width="1" height="20" fill="#c0c0c0"/>
<rect x="824" y="542" width="1" height="21" fill="#c0c0c0"/>
<rect x="832" y="542" width="1" height="20" fill="#c0c0c0"/>
<rect x="840" y="542" width="1" height="20" fill="#c0c0c0"/>
<rect x="848" y="542" width="1" height="22" fill="#c0c0c0"/>
<rect x="856" y="542" width="1" height="25" fill="#c0c0c0"/>
<rect x="864" y="542" width="1" height="25" fill="#c0c0c0"/>
<rect x="872" y="542" width="1" height="24" fill="#c0c0c0"/>
<rect x="880" y="542" width="1" height="25" fill="#c0c0c0"/>
<rect x="888" y="542" width="1" height="26" fill="#c0c0c0"/>
<rect x="896" y="542" width="1" height="29" fill="#c0c0c0"/>
<rect x="904" y="542" width="1" height="31" fill="#c0c0c0"/>
<rect x="912" y="542" width="1" height="34" fill="#c0c0c0"/>
<rect x="920" y="542" width="1" height="34" fill="#c0c0c0"/>
<rect x="928" y="542" width="1" height="34" fill="#c0c0c0"/>
<rect x="936" y="542" width="1" height="33" fill="#c0c0c0"/>
<rect x="944" y="542" width="1" height="28" fill="#c0c0c0"/>
<rect x="952" y="542" width="1" height="23" fill="#c0c0c0"/>
<rect x="960" y="542" width="1" height="18" fill="#c0c0c0"/>
<rect x="968" y="542" width="1" height="14" fill="#c0c0c0"/>
<rect x="976" y="542" width="1" height="12" fill="#c0c0c0"/>
<rect x="984" y="542" width="1" height="11" fill="#c0c0c0"/>
<rect x="992" y="542" width="1" height="10" fill="#c0c0c0"/>
<rect x="1000" y="542" width="1" height="7" fill="#c0c0c0"/>
<rect x="1008" y="542" width="1" height="3" fill="#c0c0c0"/>
<rect x="1200" y="542" width="1" height="2" fill="#c0c0c0"/>
<rect x="1208" y="542" width="1" height="3" fill="#c0c0c0"/>
<rect x="1216" y="542" width="1" height="4" fill="#c0c0c0"/>
<rect x="1224" y="542" width="1" height="4" fill="#c0c0c0"/>
<rect x="1232" y="542" width="1" height="2" fill="#c0c0c0"/>
<rect x="1024" y="540" width="1" height="3" fill="#c0c0c0"/>
<rect x="1032" y="539" width="1" height="4" fill="#c0c0c0"/>
<rect x="1040" y="536" width="1" height="7" fill="#c0c0c0"/>
<rect x="1048" y="536" width="1" height="7" fill="#c0c0c0"/>
<rect x="1056" y="535" width="1" height="8" fill="#c0c0c0"/>
<rect x="1064" y="534" width="1" height="9" fill="#c0c0c0"/>
<rect x="1072" y="533" width="1" height="10" fill="#c0c0c0"/>
<rect x="1080" y="533" width="1" height="10" fill="#c0c0c0"/>
<rect x="1088" y="533" width="1" height="10" fill="#c0c0c0"/>
<rect x="1096" y="534" width="1" height="9" fill="#c0c0c0"/>
<rect x="1104" y="534" width="1" height="9" fill="#c0c0c0"/>
<rect x="1112" y="533" width="1" height="10" fill="#c0c0c0"/>
<rect x="1120" y="533" width="1" height="10" fill="#c0c0c0"/>
<rect x="1128" y="535" width="1" height="8" fill="#c0c0c0"/>
<rect x="1136" y="537" width="1" height="6" fill="#c0c0c0"/>
<rect x="1144" y="536" width="1" height="7" fill="#c0c0c0"/>
<rect x="1152" y="535" width="1" height="8" fill="#c0c0c0"/>
<rect x="1160" y="538" width="1" height="5" fill="#c0c0c0"/>
<rect x="1168" y="539" width="1" height="4" fill="#c0c0c0"/>
<rect x="1176" y="540" width="1" height="3" fill="#c0c0c0"/>
<rect x="1184" y="541" width="1" height="2" fill="#c0c0c0"/>
<rect x="1248" y="541" width="1" height="2" fill="#c0c0c0"/>
<rect x="1256" y="539" width="1" height="4" fill="#c0c0c0"/>
<rect x="1264" y="537" width="1" height="6" fill="#c0c0c0"/>
<rect x="1272" y="535" width="1" height="8" fill="#c0c0c0"/>
<polyline points="8,541 16,539.5 25,538.5 33,537 40,535.3 56,533.4 80,531.5 100,530.5 125,529 144,527.8 175,525.5 188,525 192,525.5 200,526.5 212.5,528 225,530.3 237.6,533.4 250,537 262.7,540.6 275,544 285,547.5 298,550.4 313,552.6 320,554.4 338,555.4 357,556.3 375,556.4 388,557.5 400,558.5 407,559.4 416,559 433,559 458.5,556 488.5,552.25 496,550.25 521,547 541,545.5 561,544 586,545.25 596,547 616,548.5 641,550.25 646,551.5 666,553.5 671,554.75 691,555.75 703.5,557.75 716,558.25 766,558.25 791,559.5 806,561.5 834,562.25 857,564.5 894.5,566 904.5,568.5 919.5,570.25 937,572.25 957,571.5 972,569 987,564.5 1000,560.4 1011.7,555 1023.4,550.6 1035,546.4 1046.8,543.4 1058.5,540.5 1071,537.4 1083.6,535.5 1089.5,534.5 1101,533.5 1132,533.5 1157,534.5 1174.5,535.75 1194.5,537.75 1207,540.25 1232,542.25 1244.5,543.25 1256,542.5 1272,542" fill="none" stroke="#ff0000" stroke-width="1" stroke-dasharray="3 3"/>
<line x1="8" x2="1609" y1="619.5" y2="619.5" stroke="#c0c0c0" stroke-dasharray="3 3"/>
<line x1="8" x2="1609" y1="669.5" y2="669.5" stroke="#c0c0c0" stroke-dasharray="3 3"/>
<polyline points="8.5,611.25 16.5,608 24.5,610 32.5,612 40.5,615.5 48.5,620 56.5,611.75 64.5,622 72.5,621.25 80.5,623.75 88.5,630 96.5,626.25 104.5,623 112.5,618.75 120.5,608.25 128.5,608.25 136.5,607 144.5,615 152.5,627.5 160.5,626.25 168.5,626.25 176.5,630 184.5,632.5 192.5,630 200.5,635 208.5,656.25 216.5,661.25 224.5,660 232.5,658 240.5,657 248.5,656.25 256.5,667.5 264.5,670.5 272.5,665.5 280.5,670 288.5,674.5 296.5,661.25 304.5,649.5 312.5,652.5 320.5,656.25 328.5,655 336.5,653.75 344.5,665 352.5,663.25 360.5,667.5 368.5,666.25 376.5,662.5 384.5,661.25 392.5,667.5 400.5,657.5 408.5,653.75 416.5,654.5 424.5,653.5 432.5,644 440.5,644 448.5,649 456.5,651.5 464.5,645.25 472.5,648.5 480.5,644 488.5,637.25 496.5,642 504.5,644.5 512.5,642.25 520.5,641 528.5,648.5 536.5,646 544.5,649.5 552.5,649.5 560.5,655.25 568.5,657.25 576.5,657.25 584.5,656 592.5,664.5 600.5,664.5 608.5,662.25 616.5,659.25 624.5,661 632.5,663.25 640.5,666.5 648.5,676.5 656.5,673.5 664.5,673.25 672.5,671 680.5,669 688.5,669.5 696.5,677.5 704.5,671 712.5,665.25 720.5,664 728.5,660.25 736.5,651 744.5,668.25 752.5,670.25 760.5,673.5 768.5,674.5 776.5,663.25 784.5,666.5 792.5,672.25 800.5,668.5 808.5,668.5 816.5,667.25 824.5,669.5 832.5,666.5 840.5,675.25 848.5,680.25 856.5,677 864.5,672.75 872.5,671 880.5,672.75 888.5,676.5 896.5,684.5 904.5,682.25 912.5,683.25 920.5,679 928.5,673.25 936.5,674.5 944.5,647.75 952.5,637.25 960.5,637.25 968.5,639.5 976.5,646.5 984.5,648.5 992.5,647.25 1000.5,633.5 1008.5,630.25 1016.5,633.5 1024.5,629 1032.5,636 1040.5,630.25 1048.5,638.5 1056.5,635.5 1064.5,635.25 1072.5,634.25 1080.5,634.25 1088.5,639.5 1096.5,638.5 1104.5,634.5 1112.5,632.25 1120.5,640.75 1128.5,645.5 1136.5,647.5 1144.5,639 1152.5,637.25 1160.5,646.5 1168.5,645.5 1176.5,646.25 1184.5,647.5 1192.5,650.5 1200.5,652.5 1208.5,654.5 1216.5,650.25 1224.5,645.25 1232.5,641.5 1240.5,630.25 1248.5,629 1256.5,628.4 1264.5,626 1272.5,623.4" fill="none" stroke="#1e90ff" stroke-width="1"/>
<polygon points="11,48 20,48 15.5,43" fill="#000" shape-rendering="auto"/>
<text x="1139.3" y="118.8" font-size="33.4" fill="#ff1a00" font-family="&quot;Liberation Sans&quot;, &quot;Noto Sans CJK SC&quot;, sans-serif" shape-rendering="auto" textLength="243.4" lengthAdjust="spacingAndGlyphs">多空转折点2530</text>
<defs><linearGradient id="rg" x1="0" y1="0" x2="0" y2="1"><stop offset="0" stop-color="#fb5353"/><stop offset="0.36" stop-color="#de2e2e"/><stop offset="0.8" stop-color="#bd0c0c"/><stop offset="1" stop-color="#aa0000"/></linearGradient>
<linearGradient id="bg" x1="0" y1="0" x2="0" y2="1"><stop offset="0" stop-color="#f4f4f4"/><stop offset="0.45" stop-color="#dcdcdc"/><stop offset="0.5" stop-color="#cfcfcf"/><stop offset="1" stop-color="#d4d4d4"/></linearGradient></defs>
<rect x="11" y="58" width="283" height="76" fill="#fff"/>
<path d="M11,58H79V85H152V134H11Z" fill="url(#rg)"/>
<path d="M226,58H294V134H154V85H226Z" fill="url(#rg)"/>
<rect x="15" y="84" width="60" height="1" fill="#a51616"/><rect x="15" y="85" width="60" height="1" fill="#ee5a5a"/>
<rect x="230" y="84" width="60" height="1" fill="#a51616"/><rect x="230" y="85" width="60" height="1" fill="#ee5a5a"/>
<rect x="81.5" y="58.5" width="142" height="24" fill="#fff" stroke="#a9b0b8"/>
<rect x="83" y="60" width="21" height="21" fill="url(#bg)"/><rect x="104" y="60" width="1" height="21" fill="#b8bcc2"/>
<rect x="201" y="60" width="21" height="21" fill="url(#bg)"/><rect x="200" y="60" width="1" height="21" fill="#b8bcc2"/>
<polygon points="90,69 97,69 93.5,73" fill="#4a62c4" shape-rendering="auto"/>
<polygon points="208,73 215,73 211.5,69" fill="#4a62c4" shape-rendering="auto"/>
<g shape-rendering="auto">
<g stroke="#565656" stroke-width="1.9" stroke-dasharray="1.2 1.3" opacity="0.85">
<line x1="3.4" y1="7" x2="20.4" y2="7"/><line x1="3.4" y1="10.9" x2="20.4" y2="10.9"/><line x1="3.4" y1="15.9" x2="20.4" y2="15.9"/><line x1="3.4" y1="21" x2="15.4" y2="21"/>
</g>
<path d="M16.6,26.6 L17.6,20 H21.3 V21.5 H19 L18.8,22.8 H20.8 V24.2 H18.6 L18.2,26.6 Z" fill="#555"/>
<rect x="73.7" y="8.6" width="13.6" height="14.6" fill="none" stroke="#2e2e2e" stroke-width="1.1" stroke-dasharray="1.1 1.4"/>
<rect x="71.4" y="6.3" width="3.2" height="2.4" fill="#777"/>
<rect x="75.6" y="11.2" width="10" height="1.8" fill="#7a7a7a"/><rect x="79.2" y="11.2" width="2.6" height="10.3" fill="#767676"/>
<path d="M110,7.4 L114.4,12.8 H111.9 V13.9 H108.1 V12.8 H105.6 Z" fill="#5c5c5c"/>
<path d="M118.9,23.9 L123.4,19.4 H121 V18.2 H116.8 V19.4 H114.5 Z" fill="#5c5c5c"/>
<path d="M108.3,16.8 L111.2,19.8 L116.8,12.8" fill="none" stroke="#4a4a4a" stroke-width="1.7"/>
<polygon points="128.9,13.9 136.1,13.9 132.5,18.2" fill="#000"/>
<path fill-rule="evenodd" fill="#555" d="M41.1,21.8 L44.9,10 H47.3 L51.1,21.8 H48.7 L47.9,19.2 H44.3 L43.5,21.8 Z M44.9,17.3 H47.3 L46.1,13.1 Z"/>
</g>

</svg>
<div id="t">
<div style="left:1615.6px;top:52.42px;font-size:12.5px;line-height:12.5px;color:#000;">2815.695</div>
<div style="left:1615.6px;top:101.42px;font-size:12.5px;line-height:12.5px;color:#000;">2760.445</div>
<div style="left:1615.6px;top:150.42px;font-size:12.5px;line-height:12.5px;color:#000;">2706.300</div>
<div style="left:1615.6px;top:199.42px;font-size:12.5px;line-height:12.5px;color:#000;">2652.155</div>
<div style="left:1615.6px;top:248.42px;font-size:12.5px;line-height:12.5px;color:#000;">2596.905</div>
<div style="left:1615.6px;top:297.42px;font-size:12.5px;line-height:12.5px;color:#000;">2542.760</div>
<div style="left:1615.6px;top:346.42px;font-size:12.5px;line-height:12.5px;color:#000;">2488.615</div>
<div style="left:1615.6px;top:395.42px;font-size:12.5px;line-height:12.5px;color:#000;">2433.365</div>
<div style="left:1615.6px;top:444.42px;font-size:12.5px;line-height:12.5px;color:#000;">2379.220</div>
<div style="left:1615.6px;top:493.42px;font-size:12.5px;line-height:12.5px;color:#000;">2325.075</div>
<div style="left:1611px;top:167px;width:63px;height:14px;background:#ff0000;"></div>
<div style="left:1615.6px;top:169.42px;font-size:12.5px;line-height:12.5px;color:#fff;">2685.992</div>
<div style="left:1611px;top:252px;width:63px;height:14px;background:#ff0000;"></div>
<div style="left:1615.6px;top:254.42px;font-size:12.5px;line-height:12.5px;color:#fff;">2592.135</div>
<div style="left:1611px;top:291px;width:63px;height:14px;background:#000000;"></div>
<div style="left:1615.6px;top:293.42px;font-size:12.5px;line-height:12.5px;color:#fff;">2547.000</div>
<div style="left:1611px;top:307px;width:63px;height:14px;background:#00ff7f;"></div>
<div style="left:1615.6px;top:309.42px;font-size:12.5px;line-height:12.5px;color:#fff;">2530.771</div>
<div style="left:1611px;top:343px;width:63px;height:14px;background:#0000cd;"></div>
<div style="left:1615.6px;top:345.42px;font-size:12.5px;line-height:12.5px;color:#fff;">2490.208</div>
<div style="left:1611px;top:424px;width:63px;height:14px;background:#0000cd;"></div>
<div style="left:1615.6px;top:426.42px;font-size:12.5px;line-height:12.5px;color:#fff;">2400.662</div>
<div style="left:1613.2px;top:523.42px;font-size:12.5px;line-height:12.5px;color:#000;">34.1727</div>
<div style="left:1613.2px;top:537.42px;font-size:12.5px;line-height:12.5px;color:#000;">0.00</div>
<div style="left:1613.6px;top:566.42px;font-size:12.5px;line-height:12.5px;color:#000;">-56.0395</div>
<div style="left:1613.2px;top:585.42px;font-size:12.5px;line-height:12.5px;color:#000;">100</div>
<div style="left:1611.6px;top:614.42px;font-size:12.5px;line-height:12.5px;color:#000;">70</div>
<div style="left:1611.6px;top:664.42px;font-size:12.5px;line-height:12.5px;color:#000;">30</div>
<div style="left:1613px;top:693.42px;font-size:12.5px;line-height:12.5px;color:#000;">0</div>
<div style="left:12px;top:525.42px;font-size:12.5px;line-height:12.5px;color:#000;">MACD(12,26,9) 13.3067 2.5867</div>
<div style="left:12px;top:587.42px;font-size:12.5px;line-height:12.5px;color:#000;">RSI(14) 67.1003</div>
<div style="left:26px;top:40.42px;font-size:12.5px;line-height:12.5px;color:#000;letter-spacing:-0.47px;">SP500-,H4</div>
<div style="left:91.7px;top:40.42px;font-size:12.5px;line-height:12.5px;color:#000;">2537.500</div>
<div style="left:149.1px;top:40.42px;font-size:12.5px;line-height:12.5px;color:#000;">2548.250</div>
<div style="left:206.1px;top:40.42px;font-size:12.5px;line-height:12.5px;color:#000;">2536.500</div>
<div style="left:262.9px;top:40.42px;font-size:12.5px;line-height:12.5px;color:#000;">2547.000</div>
<div style="left:7px;top:712.42px;font-size:12.5px;line-height:12.5px;color:#000;">28 Nov 2018</div>
<div style="left:103px;top:712.42px;font-size:12.5px;line-height:12.5px;color:#000;">30 Nov 16:00</div>
<div style="left:199px;top:712.42px;font-size:12.5px;line-height:12.5px;color:#000;">4 Dec 12:00</div>
<div style="left:295px;top:712.42px;font-size:12.5px;line-height:12.5px;color:#000;">6 Dec 16:00</div>
<div style="left:391px;top:712.42px;font-size:12.5px;line-height:12.5px;color:#000;">10 Dec 12:00</div>
<div style="left:487px;top:712.42px;font-size:12.5px;line-height:12.5px;color:#000;">12 Dec 12:00</div>
<div style="left:583px;top:712.42px;font-size:12.5px;line-height:12.5px;color:#000;">14 Dec 12:00</div>
<div style="left:679px;top:712.42px;font-size:12.5px;line-height:12.5px;color:#000;">18 Dec 08:00</div>
<div style="left:775px;top:712.42px;font-size:12.5px;line-height:12.5px;color:#000;">20 Dec 08:00</div>
<div style="left:871px;top:712.42px;font-size:12.5px;line-height:12.5px;color:#000;">24 Dec 04:00</div>
<div style="left:967px;top:712.42px;font-size:12.5px;line-height:12.5px;color:#000;">27 Dec 04:00</div>
<div style="left:1063px;top:712.42px;font-size:12.5px;line-height:12.5px;color:#000;">31 Dec 00:00</div>
<div style="left:1159px;top:712.42px;font-size:12.5px;line-height:12.5px;color:#000;">2 Jan 20:00</div>
<div style="left:1255px;top:712.42px;font-size:12.5px;line-height:12.5px;color:#000;">4 Jan 20:00</div>
<div style="left:161px;top:11.27px;font-size:11.5px;line-height:11.5px;color:#4a4a4a;letter-spacing:0.4px;">M1</div>
<div style="left:195px;top:11.27px;font-size:11.5px;line-height:11.5px;color:#4a4a4a;letter-spacing:0.4px;">M5</div>
<div style="left:226.5px;top:11.27px;font-size:11.5px;line-height:11.5px;color:#4a4a4a;letter-spacing:0.4px;">M15</div>
<div style="left:260.5px;top:11.27px;font-size:11.5px;line-height:11.5px;color:#4a4a4a;letter-spacing:0.4px;">M30</div>
<div style="left:298px;top:11.27px;font-size:11.5px;line-height:11.5px;color:#4a4a4a;letter-spacing:0.9px;">H1</div>
<div style="left:331px;top:11.27px;font-size:11.5px;line-height:11.5px;color:#4a4a4a;letter-spacing:0.9px;">H4</div>
<div style="left:366.3px;top:11.27px;font-size:11.5px;line-height:11.5px;color:#4a4a4a;">D1</div>
<div style="left:399.8px;top:11.27px;font-size:11.5px;line-height:11.5px;color:#4a4a4a;letter-spacing:0.4px;">W1</div>
<div style="left:431.8px;top:11.27px;font-size:11.5px;line-height:11.5px;color:#4a4a4a;letter-spacing:0.4px;">MN</div>
<div style="left:28px;top:65.20px;font-size:15px;line-height:15px;color:#fff;transform-origin:0 0;transform:scaleX(0.9);">SELL</div>
<div style="left:245.2px;top:65.20px;font-size:15px;line-height:15px;color:#fff;transform-origin:0 0;transform:scaleX(0.94);">BUY</div>
<div style="left:165.3px;top:63.18px;font-size:15.5px;line-height:15.5px;color:#000;">1.00</div>
<div style="left:32px;top:111.45px;font-size:14px;line-height:14px;color:#fff;font-weight:bold;transform-origin:0 0;transform:scaleX(1.19);">2546</div>
<div style="left:173.6px;top:111.45px;font-size:14px;line-height:14px;color:#fff;font-weight:bold;transform-origin:0 0;transform:scaleX(1.19);">2547</div>
<div style="left:71px;top:88.35px;font-size:42px;line-height:42px;color:#fff;letter-spacing:-0.9px;">98</div>
<div style="left:214.9px;top:88.35px;font-size:42px;line-height:42px;color:#fff;letter-spacing:-1.2px;">76</div>
<div style="left:120.6px;top:94.47px;font-size:13.5px;line-height:13.5px;color:#fff;font-weight:bold;transform-origin:0 0;transform:scaleX(1.25);">5</div>
<div style="left:264.2px;top:94.47px;font-size:13.5px;line-height:13.5px;color:#fff;font-weight:bold;transform-origin:0 0;transform:scaleX(1.25);">5</div>
</div>
</body></html>
